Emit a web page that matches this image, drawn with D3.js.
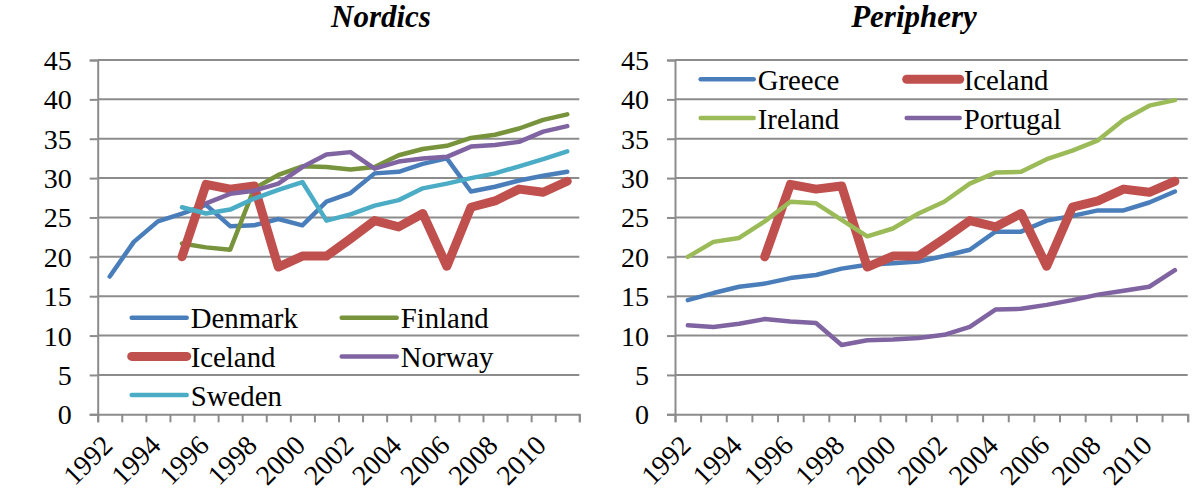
<!DOCTYPE html>
<html>
<head>
<meta charset="utf-8">
<script src="https://cdn.jsdelivr.net/npm/d3@7"></script>
<style>
  body { margin: 0; background: #fff; }
</style>
</head>
<body>
<div id="chart"></div>
<script>
// years on the category axis
var years = [1992, 1993, 1994, 1995, 1996, 1997, 1998, 1999, 2000, 2001,
             2002, 2003, 2004, 2005, 2006, 2007, 2008, 2009, 2010, 2011];
var yTicks = [0, 5, 10, 15, 20, 25, 30, 35, 40, 45];

// series values (null = no data)
var denmark  = [17.5, 21.9, 24.5, 25.5, 26.6, 23.9, 24.0, 24.8, 24.0, 27.0, 28.1, 30.6, 30.8, 31.8, 32.5, 28.3, 28.9, 29.7, 30.3, 30.8];
var finland  = [null, null, null, 21.7, 21.2, 20.9, 28.7, 30.4, 31.5, 31.4, 31.1, 31.4, 32.9, 33.7, 34.1, 35.1, 35.5, 36.3, 37.4, 38.1];
var iceland  = [null, null, null, 20.0, 29.2, 28.6, 29.0, 18.7, 20.1, 20.1, 22.3, 24.6, 23.8, 25.5, 18.8, 26.3, 27.1, 28.6, 28.2, 29.6];
var norway   = [null, null, null, null, 26.8, 28.0, 28.4, 29.3, 31.4, 33.0, 33.3, 31.2, 32.1, 32.5, 32.7, 34.0, 34.2, 34.6, 35.9, 36.6];
var sweden   = [null, null, null, 26.3, 25.5, 26.0, 27.4, 28.5, 29.5, 24.6, 25.4, 26.5, 27.2, 28.7, 29.3, 30.0, 30.6, 31.5, 32.4, 33.4];
var greece   = [14.5, 15.4, 16.2, 16.6, 17.3, 17.7, 18.5, 19.0, 19.2, 19.4, 20.1, 20.9, 23.2, 23.2, 24.6, 25.2, 25.9, 25.9, 26.9, 28.3];
var ireland  = [20.0, 21.9, 22.4, 24.5, 27.0, 26.8, 24.7, 22.6, 23.6, 25.5, 27.0, 29.3, 30.7, 30.8, 32.4, 33.5, 34.8, 37.4, 39.2, 39.9];
var portugal = [11.3, 11.1, 11.5, 12.1, 11.8, 11.6, 8.8, 9.4, 9.5, 9.7, 10.1, 11.1, 13.3, 13.4, 13.9, 14.5, 15.2, 15.7, 16.2, 18.3];

var nordicNames = ["Denmark", "Finland", "Iceland", "Norway", "Sweden"];
var nordicValues = [denmark, finland, iceland, norway, sweden];
var peripheryNames = ["Greece", "Iceland", "Ireland", "Portugal"];
var peripheryValues = [greece, iceland, ireland, portugal];

var colors = {
  Denmark: "#4a7ebb", Finland: "#77933c", Iceland: "#c0504d", Norway: "#8064a2",
  Sweden: "#4bacc6", Greece: "#4a7ebb", Ireland: "#9bbb59", Portugal: "#8064a2"
};

var fontName = "'Liberation Serif'";

var width = 1192, height = 495;
var plotTop = 60, plotBottom = 414.3;
var gridColor = "#8c8c8c";

var svg = d3.select("#chart").append("svg")
    .attr("width", width)
    .attr("height", height);

var y = d3.scaleLinear().domain([0, 45]).range([plotBottom, plotTop]);

function drawPanel(opt) {
  var g = svg.append("g");

  var x = d3.scaleBand().domain(years).range([opt.x0, opt.x1]).padding(0);
  var xEdge = d3.scaleLinear().domain([0, years.length]).range([opt.x0, opt.x1]);

  //title
  g.append("text")
      .attr("x", opt.titleX)
      .attr("y", 26.5)
      .attr("text-anchor", "middle")
      .style("font-family", fontName)
      .style("font-size", "31px")
      .style("font-weight", "bold")
      .style("font-style", "italic")
      .text(opt.title);

  //horizontal gridlines
  g.append("g").selectAll("line")
      .data(yTicks.filter(function(d) { return d > 0; }))
      .enter().append("line")
      .attr("x1", opt.x0).attr("x2", opt.x1)
      .attr("y1", function(d) { return y(d); })
      .attr("y2", function(d) { return y(d); })
      .attr("stroke", gridColor)
      .attr("stroke-width", 2);

  //y axis
  var yAxis = g.append("g")
      .attr("transform", "translate(" + opt.x0 + ",0)")
      .call(d3.axisLeft(y).tickValues(yTicks).tickSize(8).tickPadding(18));
  yAxis.attr("font-family", null).attr("font-size", null);
  yAxis.select(".domain").attr("stroke", gridColor).attr("stroke-width", 2);
  yAxis.selectAll(".tick line").attr("stroke", gridColor).attr("stroke-width", 2);
  yAxis.selectAll(".tick text")
      .attr("fill", "#000")
      .style("font-family", fontName)
      .style("font-size", "28px")
      .attr("dy", "0.34em");

  //x axis: ticks on category edges
  var xAxis = g.append("g")
      .attr("transform", "translate(0," + plotBottom + ")")
      .call(d3.axisBottom(xEdge).tickValues(d3.range(years.length + 1)).tickSize(8).tickFormat(""));
  xAxis.select(".domain").attr("stroke", gridColor).attr("stroke-width", 2);
  xAxis.selectAll(".tick line").attr("stroke", gridColor).attr("stroke-width", 2);

  //rotated year labels, every other year
  g.append("g").selectAll("text")
      .data(years.filter(function(d, i) { return i % 2 === 0; }))
      .enter().append("text")
      .attr("transform", function(d) {
        return "translate(" + (x(d) + x.bandwidth() / 2 + 4.5) + ",447) rotate(-45)";
      })
      .attr("text-anchor", "end")
      .style("font-family", fontName)
      .style("font-size", "28px")
      .text(function(d) { return d; });

  //series lines
  var line = d3.line()
      .defined(function(d) { return d != null; })
      .x(function(d, i) { return x(years[i]) + x.bandwidth() / 2; })
      .y(function(d) { return y(d); });

  opt.names.forEach(function(name, k) {
    g.append("path")
        .datum(opt.values[k])
        .attr("d", line)
        .attr("fill", "none")
        .attr("stroke", colors[name])
        .attr("stroke-width", name === "Iceland" ? 9 : 4.5)
        .attr("stroke-linejoin", "round")
        .attr("stroke-linecap", "round");
  });

  //legend
  var leg = g.append("g").selectAll("g")
      .data(opt.names)
      .enter().append("g")
      .attr("transform", function(d, i) {
        return "translate(" + (opt.legX + (i % 2) * opt.legColW) + "," + (opt.legY + Math.floor(i / 2) * 38.7) + ")";
      });
  leg.append("line")
      .attr("x1", 0).attr("x2", opt.legLineW)
      .attr("y1", 0).attr("y2", 0)
      .attr("stroke", function(d) { return colors[d]; })
      .attr("stroke-width", function(d) { return d === "Iceland" ? 9 : 4.5; })
      .attr("stroke-linecap", "round");
  leg.append("text")
      .attr("x", opt.legLineW + 4)
      .attr("y", 10.5)
      .style("font-family", fontName)
      .style("font-size", "28.8px")
      .text(function(d) { return d; });
}

drawPanel({
  title: "Nordics", titleX: 381,
  x0: 97.7, x1: 579.3,
  names: nordicNames, values: nordicValues,
  legX: 131.7, legY: 317.7, legColW: 210, legLineW: 55
});

drawPanel({
  title: "Periphery", titleX: 914,
  x0: 675, x1: 1187.7,
  names: peripheryNames, values: peripheryValues,
  legX: 700.7, legY: 79.3, legColW: 206, legLineW: 53
});
</script>
</body>
</html>
